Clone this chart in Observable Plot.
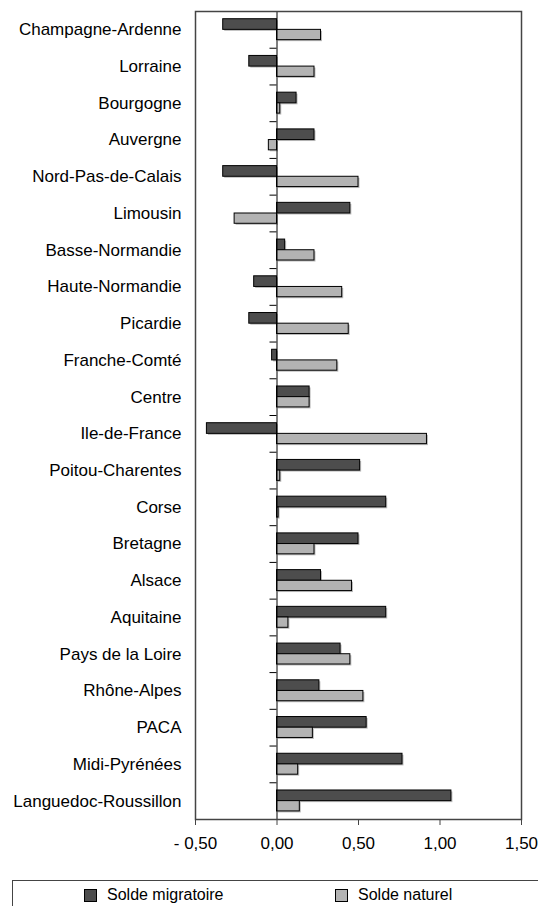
<!DOCTYPE html>
<html>
<head>
<meta charset="utf-8">
<script src="https://cdn.jsdelivr.net/npm/d3@7"></script>
<script src="https://cdn.jsdelivr.net/npm/@observablehq/plot@0.6"></script>
<style>
  html, body { margin: 0; padding: 0; background: #fff; overflow: hidden; }
  body { width: 538px; height: 906px; position: relative; font-family: "Liberation Sans", Arial, Helvetica, sans-serif; }
  #chart { position: absolute; left: 0; top: 0; }
  #legend { position: absolute; left: 12px; top: 880px; width: 560px; height: 40px; border: 1.5px solid #444; box-sizing: border-box; font-size: 16px; color: #000; }
  .item { position: absolute; top: 5px; display: flex; align-items: center; }
  .sw { width: 13px; height: 13px; border: 1px solid #000; box-sizing: border-box; margin-right: 10px; }
</style>
</head>
<body>
<div id="chart"></div>
<div id="legend"></div>
<script>
const regions = ["Champagne-Ardenne","Lorraine","Bourgogne","Auvergne","Nord-Pas-de-Calais","Limousin","Basse-Normandie","Haute-Normandie","Picardie","Franche-Comté","Centre","Ile-de-France","Poitou-Charentes","Corse","Bretagne","Alsace","Aquitaine","Pays de la Loire","Rhône-Alpes","PACA","Midi-Pyrénées","Languedoc-Roussillon"];
const soldeMigratoire = [-0.33,-0.17,0.12,0.23,-0.33,0.45,0.05,-0.14,-0.17,-0.03,0.20,-0.43,0.51,0.67,0.50,0.27,0.67,0.39,0.26,0.55,0.77,1.07];
const soldeNaturel = [0.27,0.23,0.02,-0.05,0.50,-0.26,0.23,0.40,0.44,0.37,0.20,0.92,0.02,0.01,0.23,0.46,0.07,0.45,0.53,0.22,0.13,0.14];
const seriesNames = ["Solde migratoire","Solde naturel"];
const seriesColors = ["#4d4d4d","#b3b3b3"];
const xTicks = [-0.5, 0, 0.5, 1, 1.5];

const rows = regions.map((r, i) => ({i, region: r, mig: soldeMigratoire[i], nat: soldeNaturel[i]}));
const fmt = d => {
  const s = d3.format(".2f")(Math.abs(d)).replace(".", ",");
  return d < 0 ? "- " + s : s;
};
const font = '"Liberation Sans", Arial, Helvetica, sans-serif';
const migY = {y1: d => d.i - 0.29, y2: d => d.i};
const natY = {y1: d => d.i, y2: d => d.i + 0.28};

const chart = Plot.plot({
  width: 538,
  height: 870,
  marginLeft: 195,
  marginRight: 17,
  marginTop: 11,
  marginBottom: 51,
  style: {fontFamily: font, fontSize: "17px", color: "#000", background: "#fff"},
  x: {domain: [-0.5, 1.5]},
  y: {domain: [-0.5, regions.length - 0.5], reverse: true},
  marks: [
    Plot.rect(rows, {x1: 0, x2: "mig", ...migY, fill: "#bbb", dx: 1.5, dy: 1.5}),
    Plot.rect(rows, {x1: 0, x2: "nat", ...natY, fill: "#bbb", dx: 1.5, dy: 1.5}),
    Plot.rect(rows, {x1: 0, x2: "mig", ...migY, fill: seriesColors[0], stroke: "#000", strokeWidth: 1}),
    Plot.rect(rows, {x1: 0, x2: "nat", ...natY, fill: seriesColors[1], stroke: "#000", strokeWidth: 1}),
    Plot.ruleX([0], {stroke: "#000", strokeWidth: 1}),
    Plot.ruleY(d3.range(0.5, regions.length - 1), {y: d => d, x1: -0.043, x2: 0, stroke: "#000", strokeWidth: 1}),
    Plot.frame({stroke: "#444", strokeWidth: 1.5}),
    Plot.axisY(d3.range(regions.length), {tickSize: 0, tickPadding: 14, tickFormat: i => regions[i], fontSize: 17, fill: "#000"}),
    Plot.axisX(xTicks, {tickSize: 6, tickPadding: 11, tickFormat: fmt, fontSize: 17, fill: "#000", stroke: "#444"})
  ]
});
document.getElementById("chart").appendChild(chart);

const legend = document.getElementById("legend");
const lx = [71, 322];
seriesNames.forEach((name, k) => {
  const it = document.createElement("div");
  it.className = "item";
  it.style.left = lx[k] + "px";
  it.innerHTML = `<div class="sw" style="background:${seriesColors[k]}"></div><span>${name}</span>`;
  legend.appendChild(it);
});
</script>
</body>
</html>
